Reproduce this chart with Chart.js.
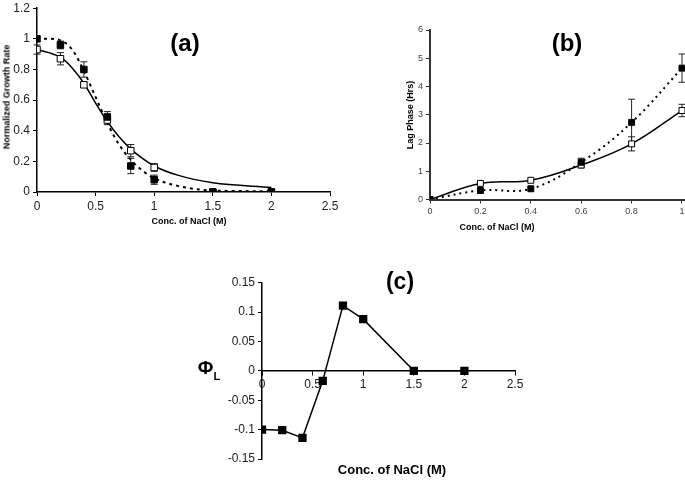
<!DOCTYPE html>
<html><head><meta charset="utf-8">
<script src="https://cdn.jsdelivr.net/npm/chart.js@4/dist/chart.umd.min.js"></script>
<style>
html,body{margin:0;padding:0;background:#fff;overflow:hidden;width:685px;height:488px;position:relative;}
canvas{position:absolute;}
.t{position:absolute;font-family:"Liberation Sans",Arial,sans-serif;color:#000;white-space:nowrap;font-weight:bold;transform:translate(-50%,-50%);line-height:1;}
.r{transform:translate(-50%,-50%) rotate(-90deg);}
sub{font-size:11px;vertical-align:-6px;}
</style></head><body>
<canvas id="ca" width="345" height="222" style="left:0;top:-2px"></canvas>
<canvas id="cb" width="420" height="240" style="left:340px;top:0"></canvas>
<canvas id="cc" width="350" height="220" style="left:180px;top:260px"></canvas>
<div class="t" style="left:185px;top:43px;font-size:24px">(a)</div>
<div class="t" style="left:567px;top:43px;font-size:24px">(b)</div>
<div class="t" style="left:400px;top:281px;font-size:23px">(c)</div>
<div class="t r" style="left:7px;top:97px;font-size:9px">Normalized Growth Rate</div>
<div class="t" style="left:189px;top:221px;font-size:9px">Conc. of NaCl (M)</div>
<div class="t r" style="left:410px;top:115px;font-size:9px">Lag Phase (Hrs)</div>
<div class="t" style="left:497px;top:227px;font-size:9px">Conc. of NaCl (M)</div>
<div class="t" style="left:209px;top:370px;font-size:19px">Φ<sub>L</sub></div>
<div class="t" style="left:392px;top:469px;font-size:13px">Conc. of NaCl (M)</div>
<script>
// ---- Panel (a): normalized growth rate ----
const concA = [0, 0.2, 0.4, 0.6, 0.8, 1.0, 1.5, 2.0];
const rateFilledA = [1.0, 0.96, 0.80, 0.49, 0.17, 0.08, 0.0, 0.0];
const rateFilledErrA = [0, 0.025, 0.05, 0.035, 0.05, 0.03, 0, 0];
const rateOpenA = [0.93, 0.87, 0.70, 0.47, 0.27, 0.16, 0.0, 0.0];
const rateOpenErrA = [0.03, 0.04, 0.015, 0.03, 0.04, 0.025, 0, 0];
const fitConcA = [0, 0.1, 0.2, 0.3, 0.4, 0.5, 0.6, 0.7, 0.8, 0.9, 1.0, 1.2, 1.5, 2.0];
const fitSolidA = [0.93, 0.91, 0.88, 0.81, 0.71, 0.58, 0.46, 0.36, 0.28, 0.22, 0.17, 0.11, 0.06, 0.03];
const fitDottedA = [1.0, 1.0, 0.99, 0.93, 0.79, 0.62, 0.45, 0.31, 0.21, 0.14, 0.09, 0.04, 0.01, 0.005];

// ---- Panel (b): lag phase ----
const concB = [0, 0.2, 0.4, 0.6, 0.8, 1.0];
const lagFilledB = [0, 0.32, 0.38, 1.32, 2.73, 4.65];
const lagFilledErrB = [0, 0, 0, 0.14, 0.82, 0.5];
const lagOpenB = [0, 0.57, 0.68, 1.22, 1.97, 3.15];
const lagOpenErrB = [0, 0, 0, 0.1, 0.25, 0.22];

// ---- Panel (c): Phi_L ----
const concC = [0, 0.2, 0.4, 0.6, 0.8, 1.0, 1.5, 2.0];
const phiC = [-0.100, -0.101, -0.114, -0.017, 0.111, 0.088, 0.0, 0.0];

const pts = (xs, ys) => xs.map((x, i) => ({x: x, y: ys[i]}));
const fmt = v => String(parseFloat(Number(v).toFixed(3)));

const errorBarPlugin = {
  id: 'errorBars',
  beforeDatasetsDraw(chart) {
    const ctx = chart.ctx;
    const xs = chart.scales.x, ys = chart.scales.y;
    chart.data.datasets.forEach(ds => {
      if (!ds.errs) return;
      ctx.save();
      ctx.strokeStyle = '#222';
      ctx.lineWidth = 1;
      ds.data.forEach((p, i) => {
        const e = ds.errs[i];
        if (!e) return;
        const px = xs.getPixelForValue(p.x);
        const y1 = ys.getPixelForValue(p.y + e);
        const y2 = ys.getPixelForValue(p.y - e);
        ctx.beginPath();
        ctx.moveTo(px, y1); ctx.lineTo(px, y2);
        ctx.moveTo(px - 3.5, y1); ctx.lineTo(px + 3.5, y1);
        ctx.moveTo(px - 3.5, y2); ctx.lineTo(px + 3.5, y2);
        ctx.stroke();
      });
      ctx.restore();
    });
  }
};

function axis(o) {
  return {
    type: 'linear', min: o.min, max: o.max,
    position: o.position,
    afterFit: o.fit,
    grid: {display: true, drawOnChartArea: false, drawTicks: true, tickLength: 4, color: o.axisColor, lineWidth: 1},
    border: {display: true, color: o.axisColor, width: o.axisWidth},
    ticks: {stepSize: o.step, padding: 3, color: o.tickColor, font: {family: 'Liberation Sans', size: o.fontSize}, callback: fmt, autoSkip: false, maxRotation: 0}
  };
}

function baseOptions(padding, xAxis, yAxis) {
  return {
    responsive: false, animation: false, devicePixelRatio: 1,
    layout: {padding: padding},
    plugins: {legend: {display: false}, tooltip: {enabled: false}, title: {display: false}},
    scales: {x: xAxis, y: yAxis}
  };
}

// Panel (a)
new Chart(document.getElementById('ca'), {
  type: 'line',
  data: {datasets: [
    {data: pts(concA, rateFilledA), errs: rateFilledErrA, showLine: false, pointStyle: 'rect', pointRadius: 4.6, backgroundColor: '#000', borderColor: '#000', borderWidth: 1},
    {data: pts(concA, rateOpenA), errs: rateOpenErrA, showLine: false, pointStyle: 'rect', pointRadius: 4.6, backgroundColor: '#fff', borderColor: '#000', borderWidth: 1},
    {data: pts(fitConcA, fitDottedA), pointRadius: 0, borderColor: '#000', borderWidth: 2, borderDash: [3, 4], cubicInterpolationMode: 'monotone', fill: false},
    {data: pts(fitConcA, fitSolidA), pointRadius: 0, borderColor: '#000', borderWidth: 1.5, cubicInterpolationMode: 'monotone', fill: false}
  ]},
  options: baseOptions({top: 7, right: 15, left: 0, bottom: 0},
    axis({min: 0, max: 2.5, step: 0.5, fit: s => { s.height = 28; }, axisColor: '#000', axisWidth: 1.5, tickColor: '#222', fontSize: 12}),
    axis({min: 0, max: 1.2, step: 0.2, fit: s => { s.width = 37; }, axisColor: '#000', axisWidth: 1.5, tickColor: '#222', fontSize: 12})),
  plugins: [errorBarPlugin]
});

// Panel (b)
new Chart(document.getElementById('cb'), {
  type: 'line',
  data: {datasets: [
    {data: pts(concB, lagFilledB), errs: lagFilledErrB, pointStyle: 'rect', pointRadius: 4.2, backgroundColor: '#000', pointBackgroundColor: '#000', borderColor: '#000', borderWidth: 2, borderDash: [2, 4], tension: 0.4, pointBorderWidth: 1, fill: false},
    {data: pts(concB, lagOpenB), errs: lagOpenErrB, pointStyle: 'rect', pointRadius: 4.2, pointBackgroundColor: '#fff', backgroundColor: '#fff', borderColor: '#000', borderWidth: 1.5, tension: 0.4, pointBorderWidth: 1, fill: false}
  ]},
  options: baseOptions({top: 30, right: 27.6, left: 0, bottom: 0},
    axis({min: 0, max: 1.2, step: 0.2, fit: s => { s.height = 40.5; }, axisColor: '#333', axisWidth: 2, tickColor: '#444', fontSize: 9}),
    axis({min: 0, max: 6, step: 1, fit: s => { s.width = 90; }, axisColor: '#333', axisWidth: 2, tickColor: '#444', fontSize: 9})),
  plugins: [errorBarPlugin]
});

// Panel (c)
new Chart(document.getElementById('cc'), {
  type: 'line',
  data: {datasets: [
    {data: pts(concC, phiC), pointStyle: 'rect', pointRadius: 4.8, pointBackgroundColor: '#000', backgroundColor: '#000', borderColor: '#000', borderWidth: 1.5, tension: 0, fill: false}
  ]},
  options: baseOptions({top: 22.7, right: 15, left: 0, bottom: 21},
    axis({min: 0, max: 2.5, step: 0.5, position: {y: 0}, axisColor: '#000', axisWidth: 1.5, tickColor: '#222', fontSize: 12}),
    axis({min: -0.15, max: 0.15, step: 0.05, fit: s => { s.width = 82; }, axisColor: '#000', axisWidth: 1.5, tickColor: '#222', fontSize: 12}))
});
</script>
</body></html>
